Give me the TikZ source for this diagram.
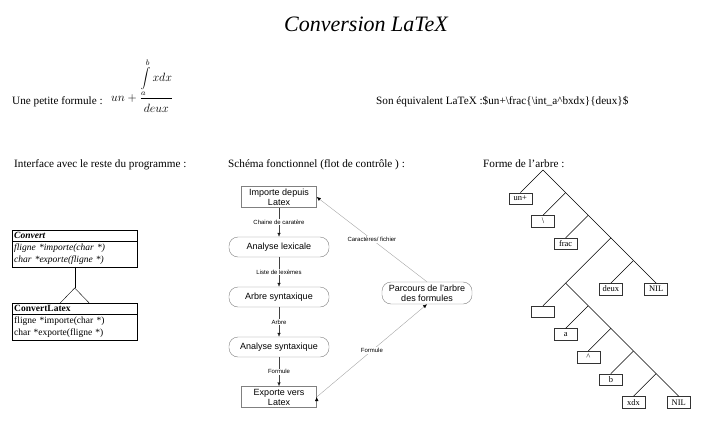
\documentclass[tikz,border=0pt]{standalone}
\usepackage{fontspec}
\setmainfont{Liberation Serif}
\setsansfont{Liberation Sans}
\usetikzlibrary{arrows.meta,calc,shapes.multipart}
\tikzset{
    txt/.style =    {anchor=base west,
                    inner sep=0pt,
                    font=\fontsize{11.2}{13}\selectfont},
    uml/.style =    {rectangle split,
                    rectangle split parts=2,
                    draw=black,
                    thin,
                    text width=121pt,
                    align=left,
                    inner xsep=2pt,
                    inner ysep=2.3pt,
                    font=\fontsize{9.5}{11.5}\selectfont},
    etape/.style =  {rectangle,
                    draw=black!50,
                    fill=white,
                    minimum width=75pt,
                    minimum height=21pt,
                    inner sep=1pt,
                    align=center,
                    font=\sffamily\fontsize{9}{10}\selectfont},
    module/.style = {etape,
                    rounded corners=9pt,
                    minimum width=100pt,
                    minimum height=20pt},
    lbl/.style =    {fill=white,
                    inner sep=1pt,
                    font=\sffamily\fontsize{6}{7}\selectfont},
    flot/.style =   {-{Latex[length=4pt,width=3.5pt]},
                    draw=black!75,
                    thin},
    retour/.style = {-{Latex[length=4pt,width=3.5pt,color=black]},
                    draw=black!35,
                    thin},
    feuille/.style = {rectangle,
                    draw=black!80,
                    minimum width=23pt,
                    minimum height=11.5pt,
                    inner sep=0pt,
                    font=\fontsize{8.5}{9}\selectfont},
    branche/.style = {draw=black,
                    line width=0.6pt}}

\begin{document}
\begin{tikzpicture}[x=1pt,y=-1pt,node distance=50pt]
\useasboundingbox (0,0) rectangle (708,433);
% titre et formule
\node[font=\itshape\fontsize{22}{26}\selectfont] (titre) at (366,24) {Conversion LaTeX};
\node[txt] (fml) at (12,104) {Une petite formule :};
\node[txt, font=\fontsize{12}{14}\selectfont] (frm) at (111,101) {$\displaystyle un+\frac{\displaystyle\int\limits_a^b xdx}{\rule{0pt}{13pt}deux}$};
\node[txt] (eqv) at (376,104) {Son équivalent LaTeX :\$un+\textbackslash frac\{\textbackslash int\_a\^{}bxdx\}\{deux\}\$};
\node[txt] (h1) at (14,167) {Interface avec le reste du programme :};
\node[txt] (h2) at (228,167) {Schéma fonctionnel (flot de contrôle ) :};
\node[txt] (h3) at (483,167) {Forme de l'arbre :};

% classes
\node[uml, anchor=north west] (conv) at (12,230)
    {\textbf{\textit{Convert}}\nodepart{second}\textit{fligne *importe(char *)}\\\textit{char *exporte(fligne *)}};
\node[uml, anchor=north west] (convlat) at (12,303)
    {\textbf{ConvertLatex}\nodepart{second}fligne *importe(char *)\\char *exporte(fligne *)};
\coordinate (pointe) at ($(convlat.north)+(0,-15)$);
\draw (conv.south) -- (pointe);
\draw ($(convlat.north)+(-14.5,0)$) -- (pointe) -- ($(convlat.north)+(14.5,0)$);

% flot de controle
\node[etape]  (imp) at (279,197)   {Importe depuis\\Latex};
\node[module] (lex) [below of=imp] {Analyse lexicale};
\node[module] (arb) [below of=lex] {Arbre syntaxique};
\node[module] (syn) [below of=arb] {Analyse syntaxique};
\node[etape]  (exp) [below of=syn] {Exporte vers\\Latex};
\node[module, minimum width=90pt, minimum height=22pt] (par) at (427,293) {Parcours de l'arbre\\des formules};
\path[flot]   (imp) edge node[lbl] {Chaine de caratère} (lex)
              (lex) edge node[lbl] {Liste de lexèmes} (arb)
              (arb) edge node[lbl] {Arbre} (syn)
              (syn) edge node[lbl] {Formule} (exp);
\path[retour] (par.north) edge node[lbl] {Caractères/ fichier} (imp.east)
              (exp.east) edge node[lbl] {Formule} (par.south);

% arbre
\begin{scope}[node distance=32pt]
\coordinate (n0) at (543,170);
\node[feuille] (unp)  [below left of=n0, anchor=north] {un+};
\coordinate[below right of=n0] (n1);
\node[feuille] (bs)   [below left of=n1, anchor=north] {\textbackslash};
\coordinate[below right of=n1] (n2);
\node[feuille] (frac) [below left of=n2, anchor=north] {frac};
\coordinate[below right of=n2] (n3);
\coordinate[below right of=n3] (n4);
\node[feuille] (deux) [below left of=n4, anchor=north] {deux};
\node[feuille] (nila) [below right of=n4, anchor=north] {NIL};
\coordinate[node distance=64pt, below left of=n3] (s0);
\node[feuille] (vide) [below left of=s0, anchor=north] {};
\coordinate[below right of=s0] (s1);
\node[feuille] (a)    [below left of=s1, anchor=north] {a};
\coordinate[below right of=s1] (s2);
\node[feuille] (chap) [below left of=s2, anchor=north] {\^{}};
\coordinate[below right of=s2] (s3);
\node[feuille] (b)    [below left of=s3, anchor=north] {b};
\coordinate[below right of=s3] (s4);
\node[feuille] (xdx)  [below left of=s4, anchor=north] {xdx};
\node[feuille] (nilb) [below right of=s4, anchor=north] {NIL};
\path[branche] (n0) edge (unp.north) edge (n1)
               (n1) edge (bs.north) edge (n2)
               (n2) edge (frac.north) edge (n3)
               (n3) edge (s0) edge (n4)
               (n4) edge (deux.north) edge (nila.north)
               (s0) edge (vide.north) edge (s1)
               (s1) edge (a.north) edge (s2)
               (s2) edge (chap.north) edge (s3)
               (s3) edge (b.north) edge (s4)
               (s4) edge (xdx.north) edge (nilb.north);
\end{scope}
\end{tikzpicture}
\end{document}
